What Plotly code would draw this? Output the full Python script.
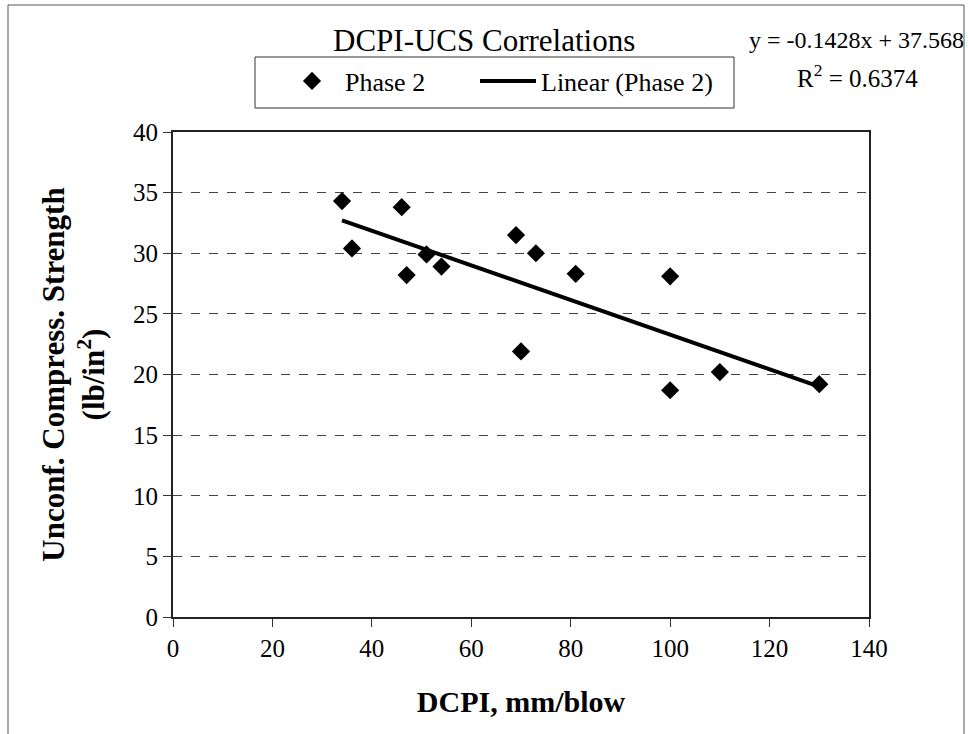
import plotly.graph_objects as go

# Phase 2 field measurements
dcpi = [34, 36, 46, 47, 51, 54, 69, 70, 73, 81, 100, 100, 110, 130]
ucs = [34.3, 30.4, 33.8, 28.2, 29.9, 28.9, 31.5, 21.9, 30.0, 28.3, 28.1, 18.7, 20.2, 19.2]

# Linear trendline coefficients
slope = -0.1428
intercept = 37.568
r_squared = 0.6374

x_ticks = [0, 20, 40, 60, 80, 100, 120, 140]
y_ticks = [0, 5, 10, 15, 20, 25, 30, 35, 40]

SERIF = "Liberation Serif, Times New Roman, serif"

# plot-area pixel box used to place paper-referenced items
L, R, T, B = 173, 869, 132, 617


def px(x):
    return (x - L) / (R - L)


def py(y):
    return (B - y) / (B - T)


trend_x = [min(dcpi), max(dcpi)]
trend_y = [slope * v + intercept for v in trend_x]

fig = go.Figure()
fig.add_trace(go.Scatter(
    x=dcpi, y=ucs, mode="markers", name="Phase 2", legend="legend",
    marker=dict(symbol="diamond", size=14, color="black"),
))
fig.add_trace(go.Scatter(
    x=trend_x, y=trend_y, mode="lines", name="Linear (Phase 2)", legend="legend2",
    line=dict(color="black", width=4),
))

legend_common = dict(
    xanchor="left", yanchor="middle", borderwidth=0,
    bgcolor="rgba(0,0,0,0)", font=dict(family=SERIF, size=26, color="black"),
)

fig.update_layout(
    width=968, height=734,
    margin=dict(l=L, r=968 - R, t=T, b=734 - B),
    paper_bgcolor="white", plot_bgcolor="white",
    font=dict(family=SERIF, size=24, color="black"),
    showlegend=True,
    legend=dict(x=px(279), y=py(81), itemwidth=56, **legend_common),
    legend2=dict(x=px(475), y=py(81), itemwidth=56, **legend_common),
    xaxis=dict(
        range=[0, 140], tickvals=x_ticks, ticks="outside", ticklen=8,
        tickcolor="#333", showline=True, linecolor="#222", linewidth=2,
        mirror=True, showgrid=False, zeroline=False,
        tickfont=dict(family=SERIF, size=25),
        title=dict(text="<b>DCPI, mm/blow</b>", standoff=30,
                   font=dict(family=SERIF, size=30)),
    ),
    yaxis=dict(
        range=[0, 40], tickvals=y_ticks, ticks="outside", ticklen=8,
        tickcolor="#333", showline=True, linecolor="#222", linewidth=2,
        mirror=True, showgrid=True, gridcolor="#444", griddash="dash",
        gridwidth=1, zeroline=False,
        tickfont=dict(family=SERIF, size=25),
        title=dict(text="<b>Unconf. Compress. Strength<br>(lb/in<sup>2</sup>)</b>",
                   standoff=19, font=dict(family=SERIF, size=31)),
    ),
    annotations=[
        dict(text="DCPI-UCS Correlations", xref="paper", yref="paper",
             x=px(484), y=py(40), xanchor="center", yanchor="middle",
             showarrow=False, font=dict(family=SERIF, size=31)),
        dict(text=f"y = {slope:.4f}x + {intercept:.3f}", xref="paper", yref="paper",
             x=px(966), y=py(40), xanchor="right", yanchor="middle",
             showarrow=False, font=dict(family=SERIF, size=24)),
        dict(text=f"R<sup>2</sup> = {r_squared:.4f}", xref="paper", yref="paper",
             x=px(857), y=py(76), xanchor="center", yanchor="middle",
             showarrow=False, font=dict(family=SERIF, size=25)),
    ],
    shapes=[
        # outer chart frame
        dict(type="rect", xref="paper", yref="paper",
             x0=px(8), x1=px(964), y0=py(745), y1=py(5),
             line=dict(color="#555", width=1), layer="below"),
        # legend frame
        dict(type="rect", xref="paper", yref="paper",
             x0=px(255), x1=px(734), y0=py(108), y1=py(57),
             line=dict(color="#333", width=1), layer="below"),
    ],
)

fig.write_html("out.html")
